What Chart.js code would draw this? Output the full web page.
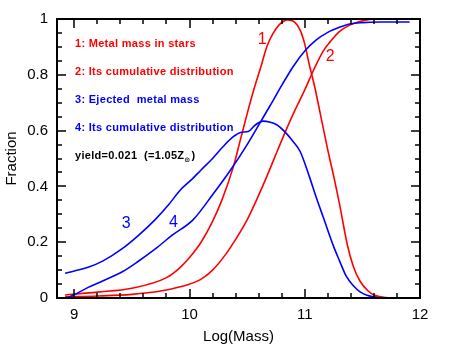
<!DOCTYPE html>
<html>
<head>
<meta charset="utf-8">
<script src="https://cdn.jsdelivr.net/npm/chart.js@4.4.0/dist/chart.umd.min.js"></script>
<style>
  html, body { margin: 0; padding: 0; background: #fff; }
</style>
</head>
<body>
<canvas id="myChart" width="458" height="352"></canvas>
<script>
// curve 1: metal mass in stars
const starsX = [8.92, 9.2, 9.5, 9.8, 9.92, 10.0, 10.1, 10.2, 10.28, 10.38, 10.44, 10.5, 10.56, 10.62, 10.67, 10.72, 10.78, 10.85, 10.91, 10.96, 11.0, 11.04, 11.09, 11.13, 11.2, 11.26, 11.3, 11.37, 11.42, 11.48, 11.55, 11.6, 11.7, 11.8];
const starsY = [0.011, 0.021, 0.035, 0.073, 0.11, 0.145, 0.2, 0.275, 0.35, 0.47, 0.565, 0.66, 0.75, 0.83, 0.9, 0.945, 0.98, 0.997, 0.99, 0.96, 0.91, 0.835, 0.75, 0.67, 0.53, 0.42, 0.34, 0.19, 0.115, 0.06, 0.025, 0.011, 0.002, 0];
// curve 2: its cumulative distribution
const starsCumX = [8.92, 9.2, 9.5, 9.75, 9.92, 10.09, 10.2, 10.32, 10.4, 10.5, 10.58, 10.67, 10.74, 10.81, 10.9, 11.0, 11.08, 11.16, 11.22, 11.3, 11.39, 11.47, 11.56, 11.65, 11.9];
const starsCumY = [0.004, 0.007, 0.013, 0.025, 0.04, 0.065, 0.1, 0.16, 0.21, 0.28, 0.35, 0.435, 0.505, 0.575, 0.66, 0.746, 0.82, 0.885, 0.918, 0.955, 0.978, 0.99, 0.998, 1.0, 1.0];
// curve 3: ejected metal mass
const ejectX = [8.92, 9.0, 9.12, 9.25, 9.41, 9.55, 9.7, 9.82, 9.92, 10.02, 10.1, 10.2, 10.29, 10.38, 10.45, 10.51, 10.57, 10.64, 10.7, 10.76, 10.84, 10.9, 10.96, 11.04, 11.1, 11.16, 11.25, 11.3, 11.36, 11.42, 11.48, 11.54, 11.6, 11.65];
const ejectY = [0.089, 0.097, 0.11, 0.133, 0.175, 0.222, 0.28, 0.335, 0.387, 0.425, 0.459, 0.5, 0.542, 0.578, 0.594, 0.597, 0.62, 0.634, 0.63, 0.62, 0.59, 0.56, 0.525, 0.435, 0.36, 0.29, 0.185, 0.135, 0.078, 0.045, 0.022, 0.01, 0.004, 0];
// curve 4: its cumulative distribution
const ejectCumX = [8.93, 9.0, 9.12, 9.25, 9.42, 9.55, 9.7, 9.85, 10.03, 10.2, 10.35, 10.5, 10.61, 10.7, 10.8, 10.9, 11.0, 11.1, 11.2, 11.3, 11.39, 11.5, 11.65, 11.91];
const ejectCumY = [0.0, 0.012, 0.038, 0.062, 0.095, 0.13, 0.175, 0.225, 0.28, 0.37, 0.455, 0.55, 0.627, 0.69, 0.762, 0.83, 0.885, 0.925, 0.952, 0.97, 0.982, 0.987, 0.989, 0.989];

const xTickLabels = [9, 10, 11, 12];
const yTickLabels = [0, 0.2, 0.4, 0.6, 0.8, 1];

// numbers written next to the curves: [text, x, y, colour]
const curveTags = [['1', 10.63, 0.925, 'red'], ['2', 11.22, 0.864, 'red'], ['3', 9.45, 0.265, 'blue'], ['4', 9.86, 0.27, 'blue']];
const legendLines = [['1: Metal mass in stars', 'red'], ['2: Its cumulative distribution', 'red'], ['3: Ejected  metal mass', 'blue'], ['4: Its cumulative distribution', 'blue']];

function pts(xs, ys) {
    return xs.map((v, i) => ({ x: v, y: ys[i] }));
}

function curve(xs, ys, color) {
    return {
        data: pts(xs, ys),
        showLine: true,
        borderColor: color,
        borderWidth: 1.6,
        pointRadius: 0,
        cubicInterpolationMode: 'monotone',
    };
}

const frameTicks = {
    id: 'frameTicks',
    afterDatasetsDraw(chart) {
        const { ctx, chartArea: a, scales: { x, y } } = chart;
        ctx.save();
        ctx.strokeStyle = '#000';
        ctx.lineWidth = 1.5;
        ctx.beginPath();
        // minor ticks every 0.2 on x and 0.05 on y
        for (let v = 9; v <= 12.001; v += 0.2) {
            const px = Math.round(x.getPixelForValue(v));
            const major = Math.abs(v - Math.round(v)) < 0.01;
            const len = major ? 9 : 5;
            ctx.moveTo(px, a.bottom); ctx.lineTo(px, a.bottom - len);
            ctx.moveTo(px, a.top); ctx.lineTo(px, a.top + len);
        }
        for (let v = 0; v <= 1.001; v += 0.05) {
            const py = Math.round(y.getPixelForValue(v));
            const major = Math.abs(v * 5 - Math.round(v * 5)) < 0.01;
            const len = major ? 9 : 5;
            ctx.moveTo(a.left, py); ctx.lineTo(a.left + len, py);
            ctx.moveTo(a.right, py); ctx.lineTo(a.right - len, py);
        }
        ctx.stroke();
        ctx.lineWidth = 2;
        ctx.strokeRect(a.left, a.top, a.right - a.left, a.bottom - a.top);

        ctx.font = '16px "Liberation Sans"';
        ctx.textAlign = 'center';
        ctx.textBaseline = 'middle';
        curveTags.forEach(t => {
            ctx.fillStyle = t[3];
            ctx.fillText(t[0], x.getPixelForValue(t[1]), y.getPixelForValue(t[2]));
        });

        ctx.font = 'bold 11px "Liberation Sans"';
        ctx.letterSpacing = '0.3px';
        ctx.textAlign = 'left';
        const lx = a.left + 18;
        legendLines.forEach((l, i) => {
            ctx.fillStyle = l[1];
            ctx.fillText(l[0], lx, a.top + 25 + 28 * i);
        });
        const yy = a.top + 25 + 28 * 4;
        ctx.fillStyle = '#000';
        const s1 = 'yield=0.021  (=1.05Z';
        ctx.fillText(s1, lx, yy);
        let w = ctx.measureText(s1).width;
        ctx.font = 'bold 7px "DejaVu Sans"';
        ctx.fillText('\u2299', lx + w, yy + 4);
        w += ctx.measureText('\u2299').width + 1;
        ctx.font = 'bold 11px "Liberation Sans"';
        ctx.fillText(')', lx + w, yy);
        ctx.restore();
    }
};

new Chart(document.getElementById('myChart'), {
    type: 'scatter',
    data: {
        datasets: [
            curve(ejectX, ejectY, '#0000ff'),
            curve(ejectCumX, ejectCumY, '#0000ff'),
            curve(starsX, starsY, '#ff0000'),
            curve(starsCumX, starsCumY, '#ff0000'),
        ]
    },
    options: {
        responsive: false,
        animation: false,
        layout: { padding: { top: 19, right: 38, left: 0, bottom: 0 } },
        plugins: { legend: { display: false }, tooltip: { enabled: false } },
        scales: {
            x: {
                type: 'linear',
                min: 8.85,
                max: 12,
                afterBuildTicks: s => { s.ticks = xTickLabels.map(v => ({ value: v })); },
                afterFit: s => { s.height = 54; },
                grid: { display: false, drawTicks: false },
                border: { display: false },
                ticks: { color: '#000', font: { family: 'Liberation Sans', size: 15 }, padding: 8, maxRotation: 0 },
                title: { display: true, text: 'Log(Mass)', color: '#000', font: { family: 'Liberation Sans', size: 15 }, padding: { top: 0, bottom: 6 } },
            },
            y: {
                min: 0,
                max: 1,
                afterBuildTicks: s => { s.ticks = yTickLabels.map(v => ({ value: v })); },
                afterFit: s => { s.width = 57; },
                grid: { display: false, drawTicks: false },
                border: { display: false },
                ticks: { color: '#000', font: { family: 'Liberation Sans', size: 15 }, padding: 9, callback: v => String(+v.toFixed(1)) },
                title: { display: true, text: 'Fraction', color: '#000', font: { family: 'Liberation Sans', size: 15 }, padding: { top: 3, bottom: 0 } },
            }
        }
    },
    plugins: [frameTicks]
});
</script>
</body>
</html>
